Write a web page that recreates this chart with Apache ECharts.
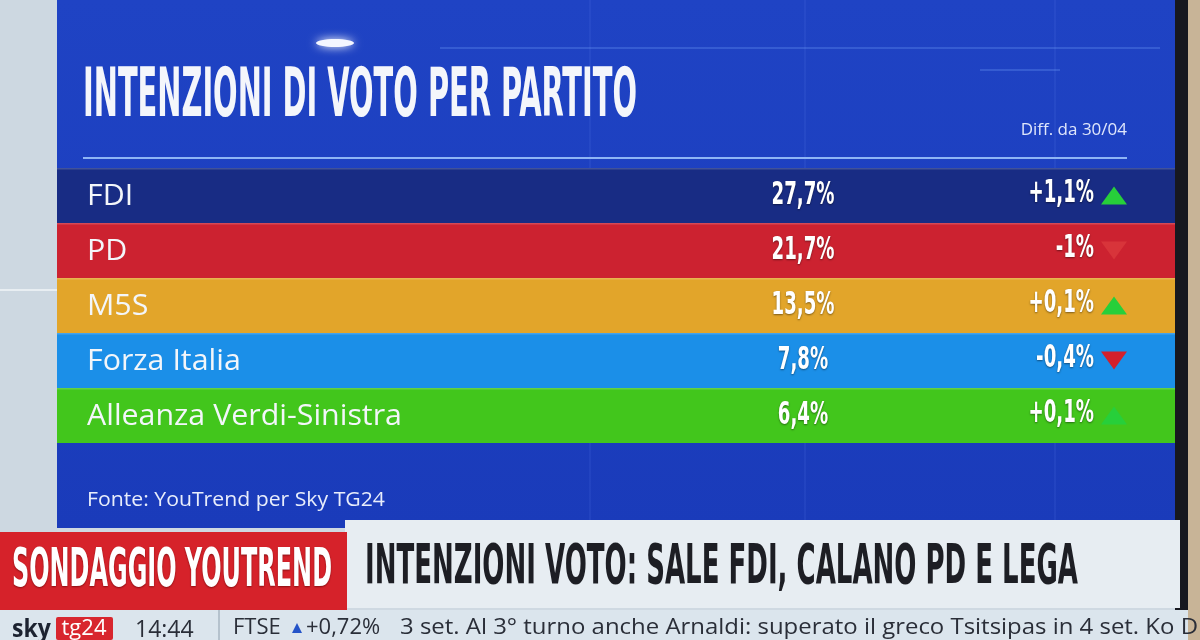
<!DOCTYPE html>
<html><head><meta charset="utf-8">
<script src="https://cdn.jsdelivr.net/npm/echarts@6/dist/echarts.min.js"></script>
<style>html,body{margin:0;padding:0;background:#cfd9e2}#c{width:1200px;height:640px}</style>
</head><body><div id="c"></div>
<script>
// ---- data ----
const parties = ['FDI', 'PD', 'M5S', 'Forza Italia', 'Alleanza Verdi-Sinistra'];
const votes = [27.7, 21.7, 13.5, 7.8, 6.4];
const diffs = [1.1, -1, 0.1, -0.4, 0.1];
const titleText = 'INTENZIONI DI VOTO PER PARTITO';
const diffHeader = 'Diff. da 30/04';
const sourceText = 'Fonte: YouTrend per Sky TG24';
const bannerLeft = 'SONDAGGIO YOUTREND';
const bannerRight = 'INTENZIONI VOTO: SALE FDI, CALANO PD E LEGA';
const tickerTime = '14:44';
const tickerIndex = 'FTSE';
const tickerIndexValue = '+0,72%';
const tickerNews = '3 set. Al 3° turno anche Arnaldi: superato il greco Tsitsipas in 4 set. Ko D';

// ---- styles ----
const rowColors = ['#182c84', '#cc2230', '#e2a52a', '#1b8fe8', '#42c61c'];
const NARROW = '"Liberation Sans Narrow","DejaVu Sans Condensed",sans-serif';
const SANS = '"Open Sans","Noto Sans",sans-serif';

const ctx = document.createElement('canvas').getContext('2d');
function fit(text, font, w) { ctx.font = font; return w / ctx.measureText(text).width; }
const fmt = v => String(v).replace('.', ',') + '%';
const fmtDiff = v => (v > 0 ? '+' : '') + fmt(v);

const titleFont = 'bold 68px ' + NARROW;
const valFont = 'bold 32px ' + NARROW;
const labelFont = '29px ' + SANS;
const valScale = fit(fmt(votes[0]), valFont, 63);
const labelScale = fit(parties[4], labelFont, 315);

const chart = echarts.init(document.getElementById('c'));

function txt(x, y, text, font, fill, opts) {
  opts = opts || {};
  return {
    type: 'text', x: x, y: y, z: opts.z || 50,
    scaleX: opts.scaleX || 1,
    style: Object.assign({
      text: text, font: font, fill: fill,
      textAlign: opts.align || 'left', textVerticalAlign: 'middle'
    }, opts.style || {})
  };
}

const bgLines = [];
[590, 805, 1055].forEach(x => bgLines.push({ type: 'line', z: -9, shape: { x1: x, y1: 0, x2: x, y2: 525 }, style: { stroke: 'rgba(120,160,255,0.18)', lineWidth: 1 } }));
[[440, 1160, 48], [980, 1060, 70]].forEach(l => bgLines.push({ type: 'line', z: -9, shape: { x1: l[0], y1: l[2], x2: l[1], y2: l[2] }, style: { stroke: 'rgba(120,170,255,0.35)', lineWidth: 1.5 } }));

const option = {
  animation: false,
  backgroundColor: '#cfd9e2',
  grid: { left: 57, right: 25, top: 168, height: 275 },
  xAxis: { type: 'value', min: 0, max: 100, show: false },
  yAxis: { type: 'category', data: parties, inverse: true, show: false },
  graphic: [
    // left strip details
    { type: 'rect', z: -10, shape: { x: 0, y: 0, width: 57, height: 640 }, style: { fill: '#cdd8e1' } },
    { type: 'line', z: -10, shape: { x1: 0, y1: 290, x2: 57, y2: 290 }, style: { stroke: '#e8eef2', lineWidth: 2 } },
    // panel
    { type: 'rect', z: -10, shape: { x: 57, y: 0, width: 1118, height: 528 },
      style: { fill: new echarts.graphic.LinearGradient(0, 0, 0, 1, [{ offset: 0, color: '#1f43c4' }, { offset: 1, color: '#1a3bba' }]) } },
    // bezel and wall
    { type: 'rect', z: -10, shape: { x: 1175, y: 0, width: 13, height: 640 }, style: { fill: '#17181f' } },
    { type: 'rect', z: -10, shape: { x: 1188, y: 0, width: 12, height: 640 }, style: { fill: '#c8b497' } },
    ...bgLines,
    { type: 'ellipse', z: -8, shape: { cx: 335, cy: 43, rx: 19, ry: 4 }, style: { fill: '#f4f6ff', shadowBlur: 10, shadowColor: '#ffffff' } },
    // title & header
    txt(83, 98, titleText, titleFont, '#f4f6fb', { scaleX: fit(titleText, titleFont, 554) }),
    txt(1127, 130, diffHeader, '17px ' + SANS, '#dfe6fb', { align: 'right' }),
    { type: 'line', z: 40, shape: { x1: 83, y1: 158, x2: 1127, y2: 158 }, style: { stroke: '#8fb5f5', lineWidth: 2 } },
    txt(87, 500, sourceText, '20px ' + SANS, '#e8edfb', { scaleX: fit(sourceText, '20px ' + SANS, 298) }),
    // lower banner
    { type: 'rect', z: 60, shape: { x: 345, y: 520, width: 835, height: 88 }, style: { fill: '#e7edf2' } },
    { type: 'rect', z: 61, shape: { x: 0, y: 532, width: 347, height: 78 }, style: { fill: '#d6222a' } },
    txt(12, 572, bannerLeft, 'bold 54px ' + NARROW, '#ffffff', { z: 62, scaleX: fit(bannerLeft, 'bold 54px ' + NARROW, 320), style: { textShadowColor: 'rgba(80,0,0,0.6)', textShadowBlur: 2, textShadowOffsetY: 1 } }),
    txt(365, 568, bannerRight, 'bold 56px ' + NARROW, '#1d1e24', { z: 62, scaleX: fit(bannerRight, 'bold 56px ' + NARROW, 713) }),
    // ticker
    { type: 'rect', z: 63, shape: { x: 0, y: 610, width: 1188, height: 30 }, style: { fill: '#dbe5ed' } },
    { type: 'line', z: 64, shape: { x1: 219, y1: 610, x2: 219, y2: 640 }, style: { stroke: '#b5c2cd', lineWidth: 2 } },
    txt(12, 630, 'sky', 'bold 25px ' + SANS, '#1c2230', { z: 64, scaleX: 0.92 }),
    { type: 'rect', z: 64, shape: { x: 56, y: 617, width: 57, height: 23, r: 2 }, style: { fill: '#d8262e' } },
    txt(84, 629, 'tg24', '22px ' + SANS, '#ffffff', { z: 65, align: 'center' }),
    txt(135, 630, tickerTime, '23px ' + SANS, '#2a2e38', { z: 64 }),
    txt(233, 628, tickerIndex, '22px ' + SANS, '#2a2e38', { z: 64 }),
    { type: 'polygon', z: 64, shape: { points: [[292, 633], [302, 633], [297, 623]] }, style: { fill: '#2453c8' } },
    txt(306, 628, tickerIndexValue, '22px ' + SANS, '#2a2e38', { z: 64 }),
    txt(400, 628, tickerNews, '22px ' + SANS, '#2a2e38', { z: 64, scaleX: fit(tickerNews, '22px ' + SANS, 798) })
  ],
  series: [{
    type: 'custom',
    coordinateSystem: 'cartesian2d',
    data: parties.map((p, i) => [i, votes[i], diffs[i]]),
    encode: { y: 0, x: 1 },
    renderItem: function (params, api) {
      const i = api.value(0);
      const c = api.coord([0, i]);
      const h = api.size([0, 1])[1];
      const cs = params.coordSys;
      const y0 = c[1] - h / 2;
      const cy = c[1];
      const d = diffs[i];
      const up = d > 0;
      const tx = 1114, tw = 13, th = 9;
      const tri = up ? [[tx - tw, cy + th], [tx + tw, cy + th], [tx, cy - th]]
                     : [[tx - tw, cy - th], [tx + tw, cy - th], [tx, cy + th]];
      return {
        type: 'group',
        children: [
          { type: 'rect', shape: { x: cs.x, y: y0, width: cs.width, height: h },
            style: { fill: rowColors[i] } },
          { type: 'rect', shape: { x: cs.x, y: y0, width: cs.width, height: 1.5 },
            style: { fill: 'rgba(255,255,255,0.18)' } },
          { type: 'text', x: 87, y: cy + 1, scaleX: labelScale,
            style: { text: parties[i], font: labelFont, fill: '#f3f6fa', textAlign: 'left', textVerticalAlign: 'middle' } },
          { type: 'text', x: 803, y: cy, scaleX: valScale,
            style: { text: fmt(api.value(1)), font: valFont, fill: '#ffffff', textAlign: 'center', textVerticalAlign: 'middle',
                     textShadowColor: 'rgba(0,0,0,0.45)', textShadowBlur: 2, textShadowOffsetY: 1 } },
          { type: 'text', x: 1094, y: cy - 2, scaleX: valScale,
            style: { text: fmtDiff(api.value(2)), font: valFont, fill: '#ffffff', textAlign: 'right', textVerticalAlign: 'middle',
                     textShadowColor: 'rgba(0,0,0,0.45)', textShadowBlur: 2, textShadowOffsetY: 1 } },
          { type: 'polygon', shape: { points: tri },
            style: { fill: up ? '#27cf3a' : (i === 1 ? '#d8343a' : '#d3202c') } }
        ]
      };
    }
  }]
};
chart.setOption(option);
</script></body></html>
